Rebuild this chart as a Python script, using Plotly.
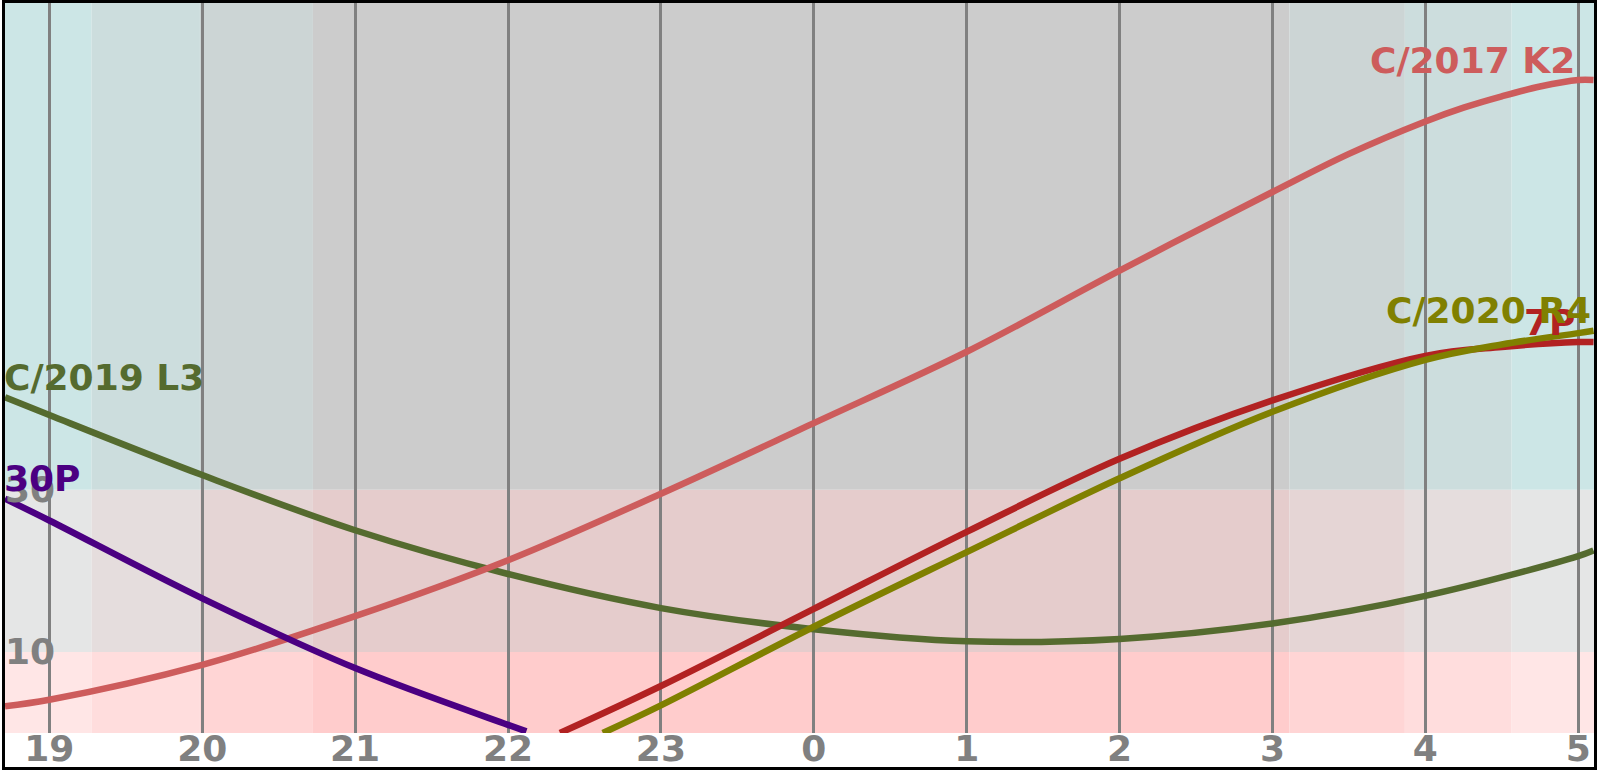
import plotly.graph_objects as go

# ---------------- data ----------------
# time axis in hours (after midnight expressed as 24+)
x_start, x_end = 18.71, 29.103
hour_ticks = [19, 20, 21, 22, 23, 24, 25, 26, 27, 28, 29]
hour_labels = ["19", "20", "21", "22", "23", "0", "1", "2", "3", "4", "5"]
alt_ticks = [10, 30]
alt_tick_labels = ["10", "30"]

# twilight boundaries (hours): sunset .. sunrise
twilight_edges = [18.71, 19.277, 19.985, 20.724, 27.11, 27.866, 28.564, 29.103]
twilight_kind = ["civil", "nautical", "astro", "night", "astro", "nautical", "civil"]
alt_edges = [0, 10, 30, 90]
alt_kind = ["low", "mid", "high"]

names = ["C/2019 L3", "C/2017 K2", "30P", "7P", "C/2020 R4"]

hours_l3 = [18.71, 19, 20, 21, 22, 23, 24, 25, 26, 27, 28, 29, 29.1]
alt_l3 = [41.4, 39.2, 31.8, 25.0, 19.6, 15.4, 12.8, 11.3, 11.6, 13.5, 16.9, 21.8, 22.5]

hours_k2 = [18.71, 19, 20, 21, 22, 23, 24, 25, 26, 27, 27.5, 28, 28.25, 28.5, 28.75, 29.0, 29.1]
alt_k2 = [3.3, 4.1, 8.4, 14.4, 21.3, 29.5, 38.2, 47.0, 57.0, 66.7, 71.4, 75.4, 77.1, 78.5, 79.7, 80.5, 80.5]

hours_30p = [18.71, 19, 20, 21, 22, 22.12]
alt_30p = [28.9, 26.2, 16.6, 8.0, 1.0, 0.2]

hours_7p = [22.34, 23, 24, 25, 26, 27, 28, 28.5, 29.0, 29.1]
alt_7p = [0.0, 5.8, 15.3, 24.8, 33.8, 41.0, 46.5, 47.6, 48.2, 48.2]

hours_r4 = [22.62, 23, 24, 25, 26, 27, 28, 28.5, 29.0, 29.1]
alt_r4 = [0.0, 3.4, 13.1, 22.3, 31.4, 39.6, 46.0, 47.9, 49.3, 49.6]

series_hours = [hours_l3, hours_k2, hours_30p, hours_7p, hours_r4]
series_alts = [alt_l3, alt_k2, alt_30p, alt_7p, alt_r4]

# ---------------- style ----------------
colors = ["#556b2f", "#cd5c5c", "#4b0082", "#b22222", "#808000"]
red_by_alt = {"low": 255, "mid": 229, "high": 204}
gb_by_twilight = {"civil": 230, "nautical": 221, "astro": 213, "night": 204}
grey = "#808080"
font_family = "DejaVu Sans"
W, H = 1600, 771
ML, MR, MT, MB = 5, 6, 3, 38

fig = go.Figure()

# background bands
for i, tk in enumerate(twilight_kind):
    for j, ak in enumerate(alt_kind):
        r = red_by_alt[ak]
        g = gb_by_twilight[tk]
        fig.add_shape(type="rect", xref="x", yref="y",
                      x0=twilight_edges[i], x1=twilight_edges[i + 1],
                      y0=alt_edges[j], y1=alt_edges[j + 1],
                      fillcolor=f"rgb({r},{g},{g})", line_width=0, layer="below")

for name, hx, ay, c in zip(names, series_hours, series_alts, colors):
    fig.add_trace(go.Scatter(x=hx, y=ay, mode="lines", name=name,
                             line=dict(color=c, width=6.5, shape="spline", smoothing=1.0),
                             hoverinfo="skip"))

mid = (x_start + x_end) / 2
for name, hx, ay, c in zip(names, series_hours, series_alts, colors):
    k = max(range(len(ay)), key=lambda i: ay[i])
    right = hx[k] > mid
    fig.add_annotation(x=hx[k], y=ay[k], text=name, showarrow=False,
                       xanchor="right" if right else "left", yanchor="middle",
                       yshift=20, xshift=-1 if right else -3,
                       font=dict(family=font_family, size=36, color=c, weight="bold"))

# outer frame
pw, ph = W - ML - MR, H - MT - MB
fig.add_shape(type="rect", xref="paper", yref="paper",
              x0=(-ML + 3.5) / pw, x1=1 + (MR - 4.5) / pw,
              y0=(-MB + 2.5) / ph, y1=1 + (MT - 1.5) / ph,
              line=dict(color="black", width=3), fillcolor="rgba(0,0,0,0)", layer="above")

fig.update_layout(
    width=W, height=H, margin=dict(l=ML, r=MR, t=MT, b=MB, pad=0, autoexpand=False),
    paper_bgcolor="white", plot_bgcolor="white", showlegend=False,
    xaxis=dict(range=[x_start, x_end], tickvals=hour_ticks, ticktext=hour_labels,
               showgrid=True, gridcolor=grey, gridwidth=3, zeroline=False,
               showline=False, ticks="", automargin=False, ticklabelstandoff=-9,
               tickfont=dict(family=font_family, size=36, color=grey, weight="bold")),
    yaxis=dict(range=[0, 90], tickvals=alt_ticks, ticktext=alt_tick_labels,
               showgrid=False, zeroline=False, showline=False, ticks="",
               ticklabelstandoff=-51, automargin=False,
               tickfont=dict(family=font_family, size=36, color=grey, weight="bold")),
)

fig.write_html("out.html", config={"displayModeBar": False},
               post_script="document.body.style.margin='0px';document.body.style.overflow='hidden';")
